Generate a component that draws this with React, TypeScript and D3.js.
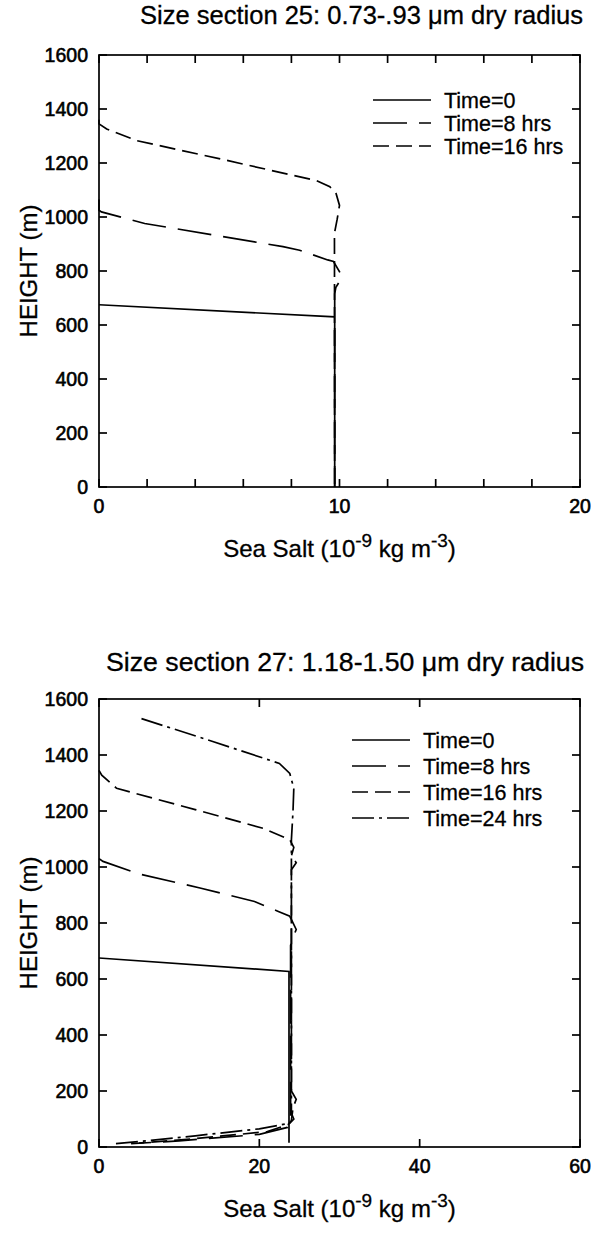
import React from "react";
import * as d3 from "d3";

// ---------- data ----------
// Panel 1: size section 25
const p1Title = "Size section 25: 0.73-.93 \u03bcm dry radius";
const p1XTicks = [0, 2, 4, 6, 8, 10, 12, 14, 16, 18, 20];
const p1XLabels = [0, 10, 20];
const yTicks = [0, 200, 400, 600, 800, 1000, 1200, 1400, 1600];
const yLabels = [0, 200, 400, 600, 800, 1000, 1200, 1400, 1600];

const p1T0Salt = [0, 9.8, 9.8];
const p1T0Height = [675, 630, 0];
const p1T8Salt = [0, 0, 0.1, 1.9, 4.8, 7.65, 8.34, 9.51, 9.75, 10.05, 10.1, 9.85, 9.8, 9.8];
const p1T8Height = [1065, 1025, 1019, 976, 933, 890, 877, 841, 835, 790, 775, 740, 715, 0];
const p1T16Salt = [0, 0, 0.32, 1.56, 5.3, 9.03, 9.6, 9.86, 10.0, 9.9, 9.79, 9.8];
const p1T16Height = [1360, 1345, 1326, 1283, 1210, 1135, 1112, 1086, 1043, 990, 940, 0];

// Panel 2: size section 27
const p2Title = "Size section 27: 1.18-1.50 \u03bcm dry radius";
const p2XTicks = [0, 20, 40, 60];
const p2XLabels = [0, 20, 40, 60];

const p2T0Salt = [0, 23.7, 23.7];
const p2T0Height = [675, 627, 15];
const p2T8Salt = [0, 0.5, 5, 12.6, 19.4, 22.3, 23.8, 24.6, 24.2, 23.9, 23.9, 23.5, 20, 10, 4];
const p2T8Height = [1030, 1020, 975, 925, 877, 842, 824, 777, 747, 720, 90, 70, 45, 22, 12];
const p2T16Salt = [0, 0.34, 2.2, 12, 20.5, 23.8, 24.3, 24.0, 24.6, 24.0, 24.0, 24.6, 24.2, 24.0, 23.6, 21, 12, 5];
const p2T16Height = [1345, 1328, 1281, 1205, 1138, 1097, 1070, 1040, 1015, 990, 200, 170, 140, 95, 80, 55, 30, 14];
const p2T24Salt = [5.3, 14, 22.5, 23.8, 24.3, 24.2, 24.0, 24.0, 24.3, 23.8, 20, 12, 6, 2];
const p2T24Height = [1530, 1450, 1370, 1334, 1281, 1200, 1097, 120, 100, 85, 65, 40, 22, 12];

const legendNames = ["Time=0", "Time=8 hrs", "Time=16 hrs", "Time=24 hrs"];
const dashes = ["none", "34,12", "16,7", "22,5,3,5"];

const FONT = "'Liberation Sans', Arial, Helvetica, sans-serif";

type Series = { x: number[]; h: number[]; dash: string; name: string };

function Panel(props: {
  title: string;
  titleX: number;
  titleY: number;
  titleLen: number;
  left: number;
  right: number;
  top: number;
  bottom: number;
  xMax: number;
  xTicks: number[];
  xLabels: number[];
  series: Series[];
  legX: number;
  legY: number;
  legDy: number;
}) {
  const { left, right, top, bottom } = props;
  const x = d3.scaleLinear().domain([0, props.xMax]).range([left, right]);
  const y = d3.scaleLinear().domain([0, 1600]).range([bottom, top]);
  const line = d3
    .line<[number, number]>()
    .x((d) => x(d[0]))
    .y((d) => y(d[1]));
  const tk = 8;
  const midY = (top + bottom) / 2;
  const midX = (left + right) / 2;
  return (
    <g fontFamily={FONT} fill="#000">
      <text
        x={props.titleX}
        y={props.titleY}
        fontSize={25}
        stroke="#000"
        strokeWidth={0.3}
        textLength={props.titleLen}
        lengthAdjust="spacingAndGlyphs"
      >
        {props.title}
      </text>
      <rect x={left} y={top} width={right - left} height={bottom - top} fill="none" stroke="#000" strokeWidth={1.7} />
      {props.xTicks.map((t) => (
        <g key={"xt" + t}>
          <line x1={x(t)} x2={x(t)} y1={bottom} y2={bottom - tk} stroke="#000" strokeWidth={1.7} />
          <line x1={x(t)} x2={x(t)} y1={top} y2={top + tk} stroke="#000" strokeWidth={1.7} />
        </g>
      ))}
      {yTicks.map((t) => (
        <g key={"yt" + t}>
          <line x1={left} x2={left + tk} y1={y(t)} y2={y(t)} stroke="#000" strokeWidth={1.7} />
          <line x1={right} x2={right - tk} y1={y(t)} y2={y(t)} stroke="#000" strokeWidth={1.7} />
        </g>
      ))}
      {yLabels.map((t) => (
        <text key={"yl" + t} x={left - 11} y={y(t) + 7} fontSize={19.5} textAnchor="end" stroke="#000" strokeWidth={0.6}>
          {t}
        </text>
      ))}
      {props.xLabels.map((t) => (
        <text key={"xl" + t} x={x(t)} y={bottom + 26} fontSize={19.5} textAnchor="middle" stroke="#000" strokeWidth={0.6}>
          {t}
        </text>
      ))}
      <text
        transform={`translate(${left - 62},${midY}) rotate(-90)`}
        fontSize={24}
        textAnchor="middle"
        stroke="#000"
        strokeWidth={0.3}
      >
        HEIGHT (m)
      </text>
      <text x={midX} y={bottom + 70} fontSize={24} textAnchor="middle" stroke="#000" strokeWidth={0.3}>
        <tspan>Sea Salt (10</tspan>
        <tspan fontSize={19} dy={-10}>-9</tspan>
        <tspan dy={10}> kg m</tspan>
        <tspan fontSize={19} dy={-10}>-3</tspan>
        <tspan dy={10}>)</tspan>
      </text>
      {props.series.map((s, i) => {
        const pts = s.x.map((v, j) => [v, s.h[j]] as [number, number]);
        return (
          <path
            key={"s" + i}
            d={line(pts) || ""}
            fill="none"
            stroke="#000"
            strokeWidth={1.7}
            strokeDasharray={s.dash === "none" ? undefined : s.dash}
          />
        );
      })}
      {props.series.map((s, i) => (
        <g key={"lg" + i}>
          <line
            x1={props.legX}
            x2={props.legX + 58}
            y1={props.legY + i * props.legDy}
            y2={props.legY + i * props.legDy}
            stroke="#000"
            strokeWidth={1.7}
            strokeDasharray={s.dash === "none" ? undefined : s.dash}
          />
          <text x={props.legX + 71} y={props.legY + i * props.legDy + 7.5} fontSize={21.5} stroke="#000" strokeWidth={0.3}>
            {s.name}
          </text>
        </g>
      ))}
    </g>
  );
}

export default function App() {
  const s1: Series[] = [
    { x: p1T0Salt, h: p1T0Height, dash: dashes[0], name: legendNames[0] },
    { x: p1T8Salt, h: p1T8Height, dash: dashes[1], name: legendNames[1] },
    { x: p1T16Salt, h: p1T16Height, dash: dashes[2], name: legendNames[2] },
  ];
  const s2: Series[] = [
    { x: p2T0Salt, h: p2T0Height, dash: dashes[0], name: legendNames[0] },
    { x: p2T8Salt, h: p2T8Height, dash: dashes[1], name: legendNames[1] },
    { x: p2T16Salt, h: p2T16Height, dash: dashes[2], name: legendNames[2] },
    { x: p2T24Salt, h: p2T24Height, dash: dashes[3], name: legendNames[3] },
  ];
  return (
    <svg width={593} height={1234} style={{ position: "absolute", left: 0, top: 0, background: "#fff" }}>
      <rect x={0} y={0} width={593} height={1234} fill="#fff" />
      <Panel
        title={p1Title}
        titleX={140}
        titleY={24}
        titleLen={443}
        left={99}
        right={580}
        top={55}
        bottom={487}
        xMax={20}
        xTicks={p1XTicks}
        xLabels={p1XLabels}
        series={s1}
        legX={373}
        legY={100}
        legDy={23}
      />
      <Panel
        title={p2Title}
        titleX={106}
        titleY={671}
        titleLen={478}
        left={99}
        right={580}
        top={699}
        bottom={1147}
        xMax={60}
        xTicks={p2XTicks}
        xLabels={p2XLabels}
        series={s2}
        legX={352}
        legY={740}
        legDy={26}
      />
    </svg>
  );
}
